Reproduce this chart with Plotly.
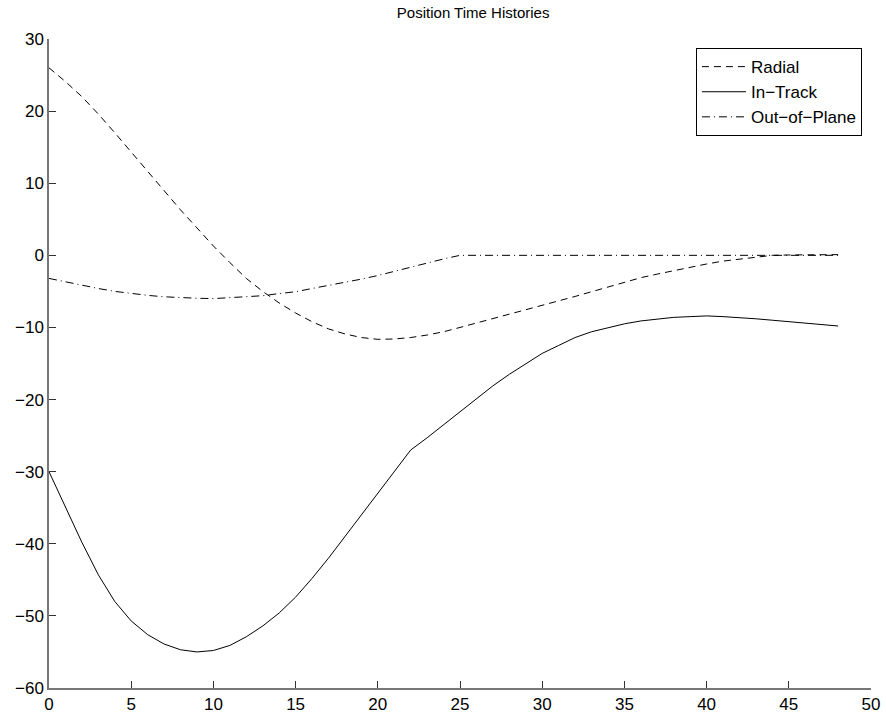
import plotly.graph_objects as go

t = list(range(0, 49))

radial = [26.0, 24.1, 22.0, 19.6, 17.0, 14.3, 11.6, 8.9, 6.3, 3.8,
          1.3, -1.0, -3.2, -5.0, -6.6, -8.0, -9.2, -10.2, -10.9, -11.4,
          -11.65, -11.6, -11.4, -11.05, -10.6, -10.0, -9.4, -8.8, -8.2, -7.6,
          -7.0, -6.35, -5.7, -5.05, -4.4, -3.75, -3.1, -2.6, -2.1, -1.6,
          -1.2, -0.8, -0.5, -0.2, 0.0, 0.05, 0.1, 0.1, 0.1]

in_track = [-30.0, -35.0, -39.8, -44.3, -48.0, -50.7, -52.6, -53.9, -54.7, -55.0,
            -54.8, -54.1, -52.9, -51.4, -49.6, -47.4, -44.8, -42.0, -39.0, -36.0,
            -33.0, -30.0, -27.0, -25.3, -23.5, -21.6, -19.9, -18.1, -16.5, -15.0,
            -13.6, -12.5, -11.4, -10.6, -10.0, -9.5, -9.1, -8.8, -8.6, -8.5,
            -8.4, -8.5, -8.6, -8.8, -9.0, -9.2, -9.4, -9.6, -9.8]

out_of_plane = [-3.2, -3.7, -4.1, -4.6, -5.0, -5.3, -5.55, -5.75, -5.9, -5.95,
                -6.0, -5.9, -5.8, -5.6, -5.3, -5.05, -4.6, -4.2, -3.8, -3.3,
                -2.8, -2.2, -1.6, -1.1, -0.5, 0.0, 0.0, 0.0, 0.0, 0.0,
                0.0, 0.0, 0.0, 0.0, 0.0, 0.0, 0.0, 0.0, 0.0, 0.0,
                0.0, 0.0, 0.0, 0.0, 0.0, 0.0, 0.0, 0.0, 0.0]

x_ticks = [0, 5, 10, 15, 20, 25, 30, 35, 40, 45, 50]
y_ticks = [-60, -50, -40, -30, -20, -10, 0, 10, 20, 30]

FONT = "Liberation Sans, Arial, Helvetica, sans-serif"

fig = go.Figure()
fig.add_trace(go.Scatter(x=t, y=radial, mode="lines", name="Radial",
                         line=dict(color="black", width=1, dash="7px,5px")))
fig.add_trace(go.Scatter(x=t, y=in_track, mode="lines", name="In\u2212Track",
                         line=dict(color="black", width=1)))
fig.add_trace(go.Scatter(x=t, y=out_of_plane, mode="lines", name="Out\u2212of\u2212Plane",
                         line=dict(color="black", width=1, dash="8px,4px,1px,4px")))

fig.update_layout(
    width=886, height=714,
    margin=dict(l=49, r=15, t=39, b=26),
    paper_bgcolor="white", plot_bgcolor="white",
    font=dict(family=FONT, size=16, color="black"),
    title=dict(text="Position Time Histories", x=0.516, xref="paper", xanchor="center",
               y=1 - 13 / 714, yref="container", yanchor="middle",
               font=dict(family=FONT, size=15, color="black")),
    showlegend=True,
    legend=dict(x=0.989, y=0.986, xanchor="right", yanchor="top",
                bgcolor="white", bordercolor="black", borderwidth=1,
                font=dict(family=FONT, size=17, color="black"),
                tracegroupgap=0, itemwidth=44),
)
fig.update_xaxes(range=[0, 50], tickvals=x_ticks, showgrid=False, zeroline=False,
                 automargin=False,
                 showline=True, linecolor="#777777", linewidth=1.5,
                 ticks="inside", ticklen=7, tickcolor="#333333", tickwidth=1,
                 tickfont=dict(family=FONT, size=17, color="black"))
fig.update_yaxes(range=[-60, 30], tickvals=y_ticks, showgrid=False, zeroline=False,
                 automargin=False,
                 showline=True, linecolor="#777777", linewidth=1.5,
                 ticks="inside", ticklen=7, tickcolor="#333333", tickwidth=1,
                 tickfont=dict(family=FONT, size=17, color="black"))

fig.write_html("out.html",
               config={"displayModeBar": False},
               post_script="document.body.style.margin='0';document.body.style.overflow='hidden';")
